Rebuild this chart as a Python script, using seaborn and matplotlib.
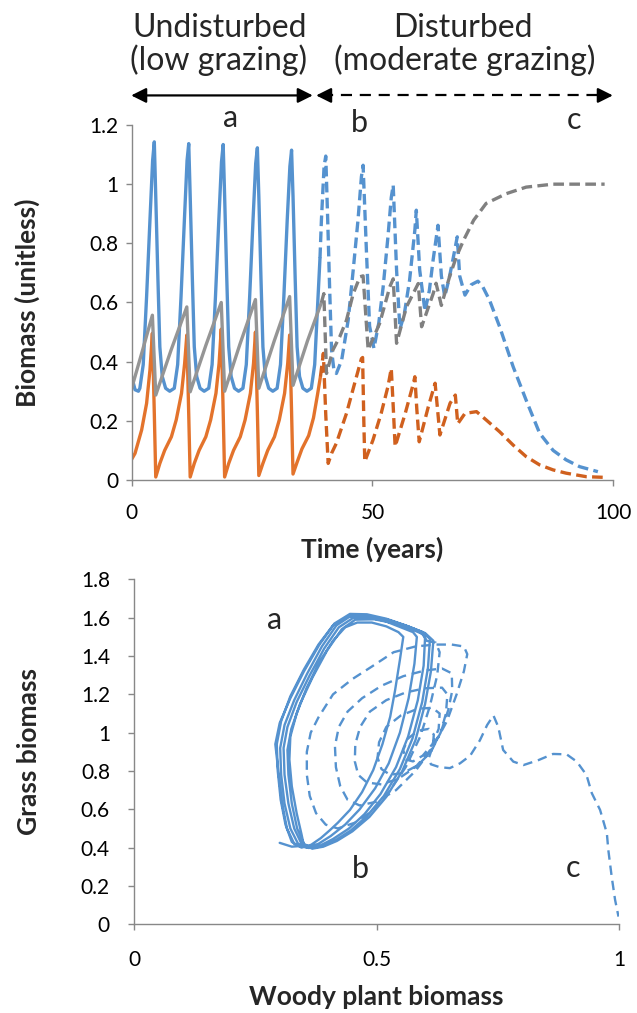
import matplotlib
matplotlib.use("Agg")
import matplotlib.pyplot as plt
import seaborn as sns

# ---- upper panel: biomass through time ----
blue_solid_t = [0.0, 0.7, 1.4, 1.7, 2.4, 3.1, 3.8, 4.35, 4.7, 5.0, 5.45, 5.85, 6.35, 7.05, 7.9,
                8.85, 9.55, 10.25, 10.95, 11.5, 11.85, 12.15, 12.6, 13.0, 13.5, 14.2, 15.05,
                16.0, 16.7, 17.4, 18.1, 18.65, 19.0, 19.3, 19.75, 20.15, 20.65, 21.35, 22.2,
                23.1, 23.8, 24.5, 25.2, 25.75, 26.1, 26.4, 26.85, 27.25, 27.75, 28.45, 29.3,
                30.2, 30.9, 31.6, 32.3, 32.85, 33.2, 33.5, 33.95, 34.35, 34.85, 35.55, 36.4,
                37.3, 38.0, 38.7, 39.1]
blue_solid_v = [0.35, 0.305, 0.30, 0.31, 0.39, 0.62, 0.88, 1.08, 1.143, 0.96, 0.68, 0.45, 0.35, 0.31, 0.30,
                0.31, 0.39, 0.62, 0.88, 1.08, 1.137, 0.96, 0.68, 0.45, 0.35, 0.31, 0.30,
                0.31, 0.39, 0.62, 0.88, 1.075, 1.134, 0.96, 0.68, 0.45, 0.35, 0.31, 0.30,
                0.31, 0.39, 0.62, 0.88, 1.07, 1.123, 0.96, 0.68, 0.45, 0.35, 0.31, 0.30,
                0.31, 0.39, 0.62, 0.88, 1.06, 1.115, 0.96, 0.68, 0.45, 0.35, 0.31, 0.30,
                0.31, 0.39, 0.62, 0.75]

blue_dash_t = [39.1, 39.4, 39.95, 40.3, 40.7, 41.1, 41.5, 42.0, 42.5, 43.6,
               44.95, 46.0, 47.0, 47.7, 48.05, 48.75, 49.4, 50.3, 51.3, 52.2,
               53.2, 53.9, 54.3, 55.0, 55.7, 56.6, 57.7, 58.8, 59.1, 59.8,
               60.9, 61.8, 62.6, 63.6, 64.3, 65.0, 65.9, 66.7, 67.6, 68.1,
               69.2, 70.5, 71.9, 72.9, 74.3, 76.4, 79.2, 81.9, 84.7, 87.5,
               90.2, 93.0, 96.8]
blue_dash_v = [0.75, 0.88, 1.06, 1.095, 0.88, 0.65, 0.44, 0.37, 0.36, 0.405,
               0.54, 0.71, 0.88, 1.025, 1.064, 0.77, 0.52, 0.445, 0.53, 0.65,
               0.82, 0.955, 0.997, 0.71, 0.51, 0.56, 0.675, 0.845, 0.912, 0.71,
               0.57, 0.64, 0.745, 0.861, 0.69, 0.62, 0.68, 0.745, 0.822, 0.69,
               0.625, 0.66, 0.672, 0.653, 0.608, 0.518, 0.383, 0.27, 0.158, 0.10,
               0.068, 0.045, 0.028]

orange_solid_t = [0.0, 0.7, 2.07, 3.1, 3.8, 4.3, 4.7, 5.0,
                  5.85, 6.85, 8.25, 9.25, 10.35, 11.0, 11.45, 11.85, 12.15,
                  13.0, 14.0, 15.4, 16.4, 17.5, 18.15, 18.6, 19.0, 19.3,
                  20.15, 21.15, 22.55, 23.55, 24.65, 25.3, 25.7, 26.1, 26.4,
                  27.25, 28.25, 29.65, 30.65, 31.75, 32.4, 32.8, 33.2, 33.5,
                  34.35, 35.35, 36.75, 37.75, 38.6, 39.2]
orange_solid_v = [0.07, 0.09, 0.169, 0.259, 0.372, 0.496, 0.225, 0.01,
                  0.056, 0.10, 0.146, 0.203, 0.293, 0.394, 0.49, 0.22, 0.01,
                  0.056, 0.10, 0.146, 0.203, 0.293, 0.394, 0.51, 0.23, 0.01,
                  0.056, 0.10, 0.146, 0.203, 0.293, 0.394, 0.50, 0.23, 0.015,
                  0.056, 0.10, 0.146, 0.203, 0.293, 0.394, 0.49, 0.23, 0.02,
                  0.06, 0.105, 0.15, 0.21, 0.29, 0.35]

orange_dash_t = [39.2, 39.8, 40.3, 40.8, 41.5, 42.5, 44.6, 46.3, 47.7, 47.95,
                 48.2, 48.4, 50.1, 51.8, 53.2, 53.9, 54.3, 54.7, 56.8, 58.5,
                 58.8, 59.2, 59.7, 61.6, 63.0, 63.5, 64.0, 66.1, 67.2, 67.7,
                 69.2, 71.6, 73.6, 76.4, 79.2, 81.9, 84.7, 87.5, 90.2, 94.4,
                 97.8]
orange_dash_v = [0.35, 0.428, 0.22, 0.056, 0.09, 0.124, 0.225, 0.327, 0.41, 0.414,
                 0.2, 0.062, 0.135, 0.225, 0.315, 0.377, 0.25, 0.113, 0.225, 0.327,
                 0.349, 0.24, 0.129, 0.248, 0.327, 0.24, 0.152, 0.259, 0.287, 0.19,
                 0.225, 0.231, 0.203, 0.163, 0.118, 0.079, 0.051, 0.034, 0.023, 0.011,
                 0.009]

gray_solid_t = [0.0, 2.2, 4.3, 5.0, 8.2, 11.45, 12.15, 15.4, 18.6, 19.3,
                22.5, 25.7, 26.4, 29.6, 32.8, 33.5, 36.5, 39.4]
gray_solid_v = [0.31, 0.435, 0.557, 0.287, 0.44, 0.585, 0.298, 0.455, 0.60, 0.30,
                0.46, 0.61, 0.31, 0.47, 0.62, 0.32, 0.47, 0.60]

gray_dash_t = [39.4, 39.9, 40.45, 41.8, 43.2, 44.6, 46.0, 47.4, 48.05, 49.1,
               51.5, 53.6, 54.3, 55.0, 57.05, 59.5, 60.2, 62.6, 63.2, 64.3,
               66.0, 67.4, 68.9, 71.0, 73.6, 77.8, 81.9, 87.5, 98.2]
gray_dash_v = [0.60, 0.63, 0.36, 0.44, 0.484, 0.54, 0.63, 0.687, 0.69, 0.44,
               0.53, 0.653, 0.68, 0.462, 0.585, 0.664, 0.518, 0.63, 0.665, 0.59,
               0.687, 0.754, 0.81, 0.878, 0.935, 0.968, 0.99, 1.0, 1.0]

# ---- lower panel: grass vs woody biomass trajectory ----
woody_solid = [0.300, 0.325, 0.350,
               0.345, 0.335, 0.325, 0.320, 0.322, 0.335, 0.355, 0.382, 0.410, 0.435, 0.460, 0.490, 0.520, 0.545, 0.555,
               0.548, 0.538, 0.528, 0.512, 0.493, 0.470, 0.445, 0.420, 0.404, 0.385, 0.365, 0.345,
               0.325, 0.312, 0.302, 0.296, 0.294, 0.303, 0.322, 0.350, 0.380, 0.410, 0.440, 0.475, 0.515, 0.550, 0.575, 0.583,
               0.578, 0.566, 0.548, 0.525, 0.497, 0.465, 0.435, 0.405, 0.380, 0.355,
               0.330, 0.315, 0.305, 0.298, 0.291, 0.300, 0.322, 0.350, 0.382, 0.413, 0.445, 0.480, 0.520, 0.560, 0.588, 0.600,
               0.597, 0.585, 0.565, 0.540, 0.508, 0.475, 0.443, 0.410, 0.383, 0.360,
               0.338, 0.322, 0.310, 0.303, 0.301, 0.310, 0.330, 0.357, 0.387, 0.417, 0.447, 0.485, 0.525, 0.565, 0.595, 0.610,
               0.606, 0.594, 0.574, 0.548, 0.515, 0.480, 0.447, 0.415, 0.388, 0.365,
               0.345, 0.330, 0.318, 0.310, 0.308, 0.316, 0.335, 0.362, 0.392, 0.422, 0.452, 0.490, 0.530, 0.570, 0.600, 0.617,
               0.612, 0.600, 0.580, 0.553, 0.520, 0.485, 0.450, 0.418, 0.390, 0.368,
               0.350, 0.336, 0.325, 0.318, 0.316, 0.324, 0.342, 0.368, 0.398, 0.428, 0.456, 0.495, 0.535, 0.572, 0.595, 0.603]
grass_solid = [0.425, 0.405, 0.410,
               0.47, 0.58, 0.72, 0.86, 0.98, 1.10, 1.23, 1.37, 1.48, 1.55, 1.575, 1.575, 1.555, 1.525, 1.50,
               1.38, 1.22, 1.083, 0.94, 0.805, 0.69, 0.597, 0.53, 0.492, 0.45, 0.415, 0.40,
               0.43, 0.52, 0.65, 0.80, 0.94, 1.06, 1.19, 1.33, 1.46, 1.56, 1.605, 1.605, 1.585, 1.55, 1.525, 1.50,
               1.36, 1.18, 1.00, 0.84, 0.71, 0.60, 0.52, 0.46, 0.42, 0.40,
               0.42, 0.50, 0.63, 0.78, 0.94, 1.05, 1.18, 1.32, 1.46, 1.57, 1.62, 1.618, 1.595, 1.56, 1.53, 1.50,
               1.35, 1.17, 0.98, 0.82, 0.68, 0.575, 0.50, 0.445, 0.41, 0.398,
               0.42, 0.50, 0.63, 0.78, 0.92, 1.04, 1.17, 1.31, 1.45, 1.56, 1.61, 1.608, 1.588, 1.555, 1.525, 1.49,
               1.34, 1.16, 0.97, 0.81, 0.67, 0.565, 0.49, 0.438, 0.408, 0.397,
               0.42, 0.50, 0.63, 0.78, 0.92, 1.03, 1.16, 1.30, 1.44, 1.55, 1.60, 1.602, 1.583, 1.55, 1.52, 1.48,
               1.32, 1.15, 0.96, 0.80, 0.665, 0.56, 0.485, 0.435, 0.405, 0.395,
               0.42, 0.50, 0.63, 0.78, 0.91, 1.02, 1.15, 1.29, 1.43, 1.54, 1.59, 1.592, 1.572, 1.54, 1.515, 1.48]

woody_dash = [0.603, 0.622, 0.630, 0.625, 0.610, 0.590, 0.560, 0.525, 0.490, 0.455, 0.420, 0.395,
              0.375, 0.362, 0.356, 0.356, 0.364, 0.380, 0.410, 0.450, 0.490, 0.535, 0.580, 0.620, 0.655, 0.680, 0.687,
              0.680, 0.665, 0.645, 0.615, 0.580, 0.540, 0.500, 0.465, 0.440,
              0.425, 0.416, 0.414, 0.422, 0.440, 0.470, 0.510, 0.555, 0.600, 0.635, 0.655,
              0.656, 0.648, 0.632, 0.608, 0.580, 0.545, 0.510, 0.480, 0.462,
              0.455, 0.456, 0.466, 0.486, 0.520, 0.560, 0.600, 0.635, 0.646,
              0.643, 0.632, 0.612, 0.585, 0.555, 0.528, 0.510,
              0.502, 0.505, 0.520, 0.550, 0.585, 0.615, 0.630,
              0.628, 0.615, 0.595, 0.575, 0.560,
              0.555, 0.565, 0.585, 0.608, 0.618,
              0.616, 0.608, 0.612, 0.630, 0.651, 0.672, 0.693, 0.713, 0.728, 0.741, 0.751, 0.761,
              0.782, 0.803, 0.834, 0.864, 0.892, 0.913, 0.933, 0.944, 0.961, 0.975, 0.978, 0.985, 0.992, 0.999]
grass_dash = [1.48, 1.47, 1.42, 1.30, 1.14, 0.98, 0.82, 0.69, 0.59, 0.53, 0.50, 0.52,
              0.58, 0.67, 0.78, 0.90, 1.00, 1.08, 1.20, 1.28, 1.345, 1.42, 1.45, 1.46, 1.46, 1.45, 1.41,
              1.32, 1.20, 1.06, 0.92, 0.80, 0.70, 0.64, 0.62, 0.65,
              0.72, 0.82, 0.93, 1.03, 1.11, 1.18, 1.245, 1.295, 1.325, 1.335, 1.31,
              1.22, 1.12, 1.00, 0.90, 0.82, 0.76, 0.73, 0.74, 0.78,
              0.85, 0.94, 1.03, 1.11, 1.17, 1.21, 1.232, 1.235, 1.20,
              1.10, 1.00, 0.90, 0.83, 0.79, 0.78, 0.81,
              0.87, 0.95, 1.03, 1.09, 1.125, 1.13, 1.10,
              1.02, 0.94, 0.88, 0.85, 0.86,
              0.91, 0.97, 1.01, 1.02, 0.99,
              0.93, 0.87, 0.835, 0.82, 0.815, 0.84, 0.88, 0.96, 1.04, 1.09, 1.03, 0.91,
              0.849, 0.831, 0.857, 0.889, 0.887, 0.849, 0.779, 0.684, 0.597, 0.475, 0.388, 0.248, 0.127, 0.04]

top_yticks = [0, 0.2, 0.4, 0.6, 0.8, 1.0, 1.2]
top_ylabels = ["0", "0.2", "0.4", "0.6", "0.8", "1", "1.2"]
top_xticks = [0, 50, 100]
bot_yticks = [0, 0.2, 0.4, 0.6, 0.8, 1.0, 1.2, 1.4, 1.6, 1.8]
bot_ylabels = ["0", "0.2", "0.4", "0.6", "0.8", "1", "1.2", "1.4", "1.6", "1.8"]
bot_xticks = [0, 0.5, 1]
bot_xlabels = ["0", "0.5", "1"]

sns.set_style("ticks")
plt.rcParams["font.family"] = ["Lato", "DejaVu Sans"]

BLUE = "#5592CF"
ORANGE = "#E3732C"
ORANGE_D = "#D0601E"
GRAY = "#959595"
GRAY_D = "#808080"
AXIS = "#888888"
dash = (0, (3.2, 1.6))

fig = plt.figure(figsize=(6.37, 10.13), dpi=100)
ax1 = fig.add_axes([0.2067, 0.5262, 0.7561, 0.3504])
ax2 = fig.add_axes([0.2108, 0.0876, 0.7609, 0.3404])

# upper panel
lw = 2.4
sns.lineplot(x=blue_solid_t, y=blue_solid_v, ax=ax1, color=BLUE, lw=lw, sort=False, estimator=None)
sns.lineplot(x=orange_solid_t, y=orange_solid_v, ax=ax1, color=ORANGE, lw=lw, sort=False, estimator=None)
sns.lineplot(x=gray_solid_t, y=gray_solid_v, ax=ax1, color=GRAY, lw=lw, sort=False, estimator=None)
sns.lineplot(x=blue_dash_t, y=blue_dash_v, ax=ax1, color=BLUE, lw=lw, ls=dash, sort=False, estimator=None)
sns.lineplot(x=orange_dash_t, y=orange_dash_v, ax=ax1, color=ORANGE_D, lw=lw, ls=dash, sort=False, estimator=None)
sns.lineplot(x=gray_dash_t, y=gray_dash_v, ax=ax1, color=GRAY_D, lw=lw, ls=dash, sort=False, estimator=None)

ax1.set_xlim(0, 100)
ax1.set_ylim(0, 1.2)
ax1.set_xticks(top_xticks)
ax1.set_yticks(top_yticks)
ax1.set_yticklabels(top_ylabels)
ax1.set_xlabel("Time (years)", fontsize=19, fontweight="bold")
ax1.set_ylabel("Biomass (unitless)", fontsize=19, fontweight="bold")
ax1.xaxis.set_label_coords(0.5, -0.16)
ax1.yaxis.set_label_coords(-0.19, 0.5)
ax1.tick_params(axis="x", pad=12)
ax1.tick_params(axis="y", pad=5)

# lower panel
lw2 = 1.7
sns.lineplot(x=woody_solid, y=grass_solid, ax=ax2, color=BLUE, lw=lw2, sort=False, estimator=None)
sns.lineplot(x=woody_dash, y=grass_dash, ax=ax2, color=BLUE, lw=lw2, ls=(0, (4, 2.5)), sort=False, estimator=None)
ax2.set_xlim(0, 1)
ax2.set_ylim(0, 1.8)
ax2.set_xticks(bot_xticks)
ax2.set_xticklabels(bot_xlabels)
ax2.set_yticks(bot_yticks)
ax2.set_yticklabels(bot_ylabels)
ax2.set_xlabel("Woody plant biomass", fontsize=19, fontweight="bold")
ax2.set_ylabel("Grass biomass", fontsize=19, fontweight="bold")
ax2.xaxis.set_label_coords(0.5, -0.175)
ax2.yaxis.set_label_coords(-0.1925, 0.5)
ax2.tick_params(axis="x", pad=14)
ax2.tick_params(axis="y", pad=13)

for ax in (ax1, ax2):
    sns.despine(ax=ax)
    for side in ("left", "bottom"):
        ax.spines[side].set_color(AXIS)
        ax.spines[side].set_linewidth(1.0)
    ax.tick_params(direction="out", length=4.5, width=1.0, color=AXIS, labelsize=15, labelcolor="black")

# panel letters
ax1.text(20.6, 1.193, "a", ha="center", va="baseline", fontsize=22)
ax1.text(47.3, 1.176, "b", ha="center", va="baseline", fontsize=22)
ax1.text(91.8, 1.186, "c", ha="center", va="baseline", fontsize=22)
ax2.text(0.29, 1.541, "a", ha="center", va="baseline", fontsize=22)
ax2.text(0.467, 0.242, "b", ha="center", va="baseline", fontsize=22)
ax2.text(0.906, 0.247, "c", ha="center", va="baseline", fontsize=22)

# period arrows above the time series
ya = 1.30
ax1.annotate("", xy=(-0.1, ya), xytext=(37.6, ya), annotation_clip=False,
             arrowprops=dict(arrowstyle="<|-|>,head_length=0.6,head_width=0.3", color="black",
                             lw=1.6, mutation_scale=15, shrinkA=0, shrinkB=0))
ax1.plot([39.5, 98.5], [ya, ya], color="black", lw=1.6, ls=(0, (5, 3.5)), clip_on=False)
ax1.annotate("", xy=(38.3, ya), xytext=(40.0, ya), annotation_clip=False,
             arrowprops=dict(arrowstyle="-|>,head_length=0.6,head_width=0.3", color="black",
                             lw=1.6, mutation_scale=15, shrinkA=0, shrinkB=0))
ax1.annotate("", xy=(99.9, ya), xytext=(98.0, ya), annotation_clip=False,
             arrowprops=dict(arrowstyle="-|>,head_length=0.6,head_width=0.3", color="black",
                             lw=1.6, mutation_scale=15, shrinkA=0, shrinkB=0))

fig.text(0.3454, 0.9635, "Undisturbed", ha="center", va="baseline", fontsize=23)
fig.text(0.3438, 0.9309, "(low grazing)", ha="center", va="baseline", fontsize=23)
fig.text(0.7268, 0.9635, "Disturbed", ha="center", va="baseline", fontsize=23)
fig.text(0.7300, 0.9309, "(moderate grazing)", ha="center", va="baseline", fontsize=23)

fig.savefig("out.png", dpi=100)
